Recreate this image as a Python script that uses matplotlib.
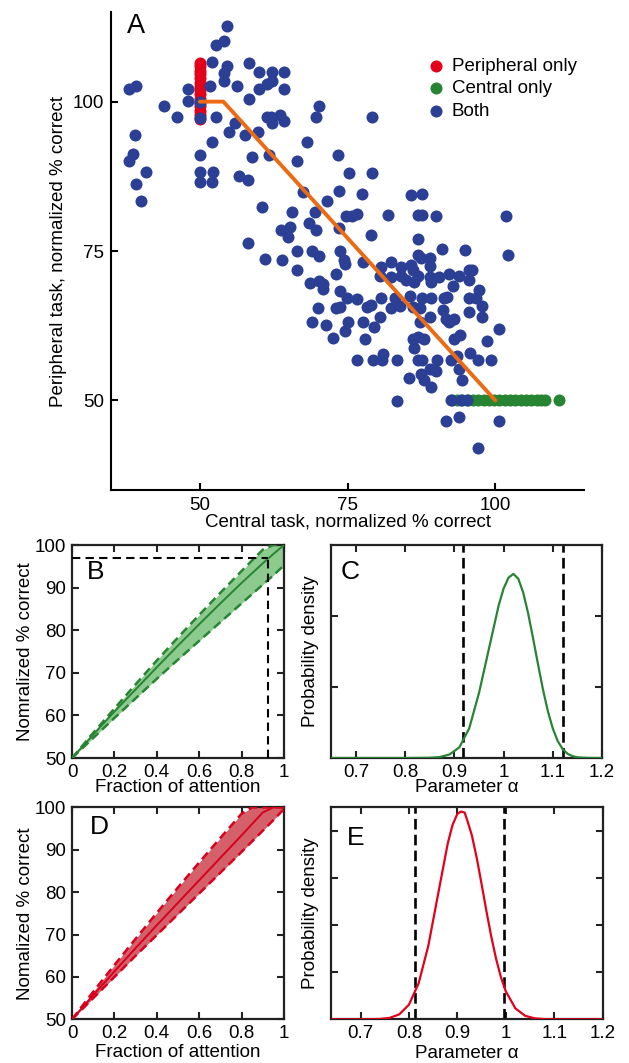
import matplotlib.pyplot as plt
import numpy as np

plt.rcParams['font.family'] = ['Liberation Sans', 'DejaVu Sans']

# ---- panel A: central vs peripheral task, normalized % correct ----
both_x = [54.7, 52.8, 54.1, 52.0, 58.4, 54.7, 54.1, 54.1, 60.1, 62.3,
          64.3, 62.3, 61.3, 60.1, 64.3, 51.7, 56.3, 38.0, 39.2, 48.1,
          48.1, 58.4, 43.9, 46.2, 52.8, 50.0, 50.0, 56.0, 61.3, 62.1,
          62.3, 63.5, 64.3, 70.2, 69.7, 54.9, 57.7, 59.8, 39.0, 52.0,
          68.2, 38.7, 38.0, 50.0, 58.9, 61.8, 73.4, 66.4, 40.9, 50.0,
          50.0, 52.3, 52.1, 56.6, 58.1, 39.2, 40.1, 75.3, 79.1, 79.1,
          67.5, 71.5, 73.6, 77.5, 85.8, 87.6, 60.5, 65.6, 69.5, 74.7,
          75.8, 76.6, 81.8, 86.9, 87.6, 89.9, 101.8, 68.5, 69.6, 73.6,
          63.8, 65.2, 64.9, 58.1, 79.0, 86.9, 90.9, 94.8, 102.2, 61.0,
          63.9, 66.5, 66.5, 69.0, 70.2, 73.8, 74.4, 74.6, 77.6, 73.0,
          68.6, 70.2, 70.9, 70.9, 73.7, 74.9, 76.6, 78.3, 70.0, 73.0,
          73.8, 69.0, 71.4, 75.1, 77.6, 74.6, 72.6, 77.9, 76.6, 80.7,
          82.4, 80.5, 82.4, 84.1, 85.8, 86.1, 84.1, 84.9, 86.3, 86.9,
          86.9, 87.5, 88.9, 88.9, 88.9, 89.1, 90.5, 92.2, 93.9, 95.6,
          96.1, 95.6, 92.9, 97.2, 96.7, 80.6, 83.0, 85.5, 87.6, 89.1,
          91.4, 91.9, 95.5, 78.9, 82.4, 83.9, 86.1, 87.2, 91.1, 95.6,
          97.7, 97.8, 88.9, 80.5, 87.2, 91.7, 93.0, 92.2, 100.6, 79.4,
          86.0, 86.9, 88.0, 86.3, 93.0, 94.1, 98.6, 79.3, 81.0, 80.8,
          83.4, 86.9, 87.6, 90.2, 92.5, 93.6, 95.7, 97.1, 99.2, 85.4,
          87.5, 88.0, 89.0, 90.0, 89.2, 93.9, 94.3, 83.4, 92.5, 94.2,
          95.2, 91.7, 93.9, 100.6, 97.0]
both_y = [112.6, 109.4, 110.1, 106.7, 106.4, 105.9, 104.8, 103.4, 104.9, 104.9,
          104.9, 103.4, 102.9, 102.1, 102.1, 102.6, 102.6, 102.1, 102.6, 102.1,
          100.1, 100.5, 99.3, 97.5, 97.5, 100.0, 97.2, 96.5, 97.5, 97.4,
          96.5, 97.8, 96.7, 99.3, 97.5, 95.0, 94.4, 95.0, 94.5, 93.3,
          93.3, 91.2, 90.1, 91.1, 90.7, 91.1, 91.1, 90.0, 88.2, 88.2,
          86.6, 88.2, 86.6, 87.6, 86.9, 86.2, 83.3, 88.0, 97.5, 88.0,
          84.8, 83.3, 85.0, 84.6, 84.4, 84.5, 82.3, 81.6, 81.6, 80.8,
          80.8, 81.2, 81.0, 81.0, 81.0, 80.8, 80.8, 79.7, 78.5, 78.8,
          78.5, 79.1, 77.4, 76.4, 77.6, 77.0, 75.4, 75.1, 74.4, 73.6,
          73.5, 75.0, 71.8, 75.0, 74.2, 75.0, 73.5, 72.9, 73.1, 71.1,
          69.7, 70.0, 69.5, 68.7, 68.3, 67.2, 67.0, 65.7, 65.4, 65.4,
          65.6, 63.1, 62.6, 63.1, 63.1, 61.6, 60.5, 60.2, 56.8, 72.4,
          73.1, 70.8, 70.6, 72.4, 72.7, 71.8, 70.8, 70.1, 69.8, 70.8,
          74.3, 73.9, 73.9, 72.5, 70.7, 69.9, 70.7, 71.1, 70.8, 71.8,
          71.8, 70.1, 69.2, 68.5, 67.2, 67.2, 67.2, 67.4, 67.2, 67.2,
          67.1, 67.3, 67.2, 65.9, 65.4, 65.8, 65.7, 65.4, 65.1, 64.8,
          65.8, 64.0, 64.0, 64.0, 63.1, 63.7, 63.7, 63.1, 61.9, 62.3,
          60.3, 60.6, 60.3, 58.7, 60.3, 60.9, 59.9, 56.8, 57.8, 56.7,
          56.8, 56.8, 56.8, 56.8, 56.7, 57.5, 57.9, 56.8, 56.8, 53.8,
          54.4, 53.4, 55.3, 54.9, 52.3, 55.3, 53.4, 49.9, 50.0, 50.0,
          50.0, 46.5, 47.3, 46.6, 42.1]
periph_only_y = [97.1, 97.8, 98.5, 99.2, 99.8, 100.5, 101.2, 101.9, 102.5,
                 103.2, 103.9, 104.6, 105.2, 105.9, 106.5]
central_only_x = [92.6, 93.5, 94.4, 95.3, 96.2, 97.1, 98.0, 98.9, 99.8, 100.7,
                  101.6, 102.5, 103.4, 104.3, 105.2, 106.1, 107.0, 107.8, 108.4,
                  110.8]
trade_x = [50, 54, 100]
trade_y = [100, 100, 50]

# ---- panels B / D: performance vs fraction of attention ----
frac = [0, 0.1, 0.2, 0.3, 0.4, 0.5, 0.6, 0.7, 0.8, 0.85, 0.9, 0.95, 1.0]
b_mid = [50, 55.5, 60.9, 66.1, 71.3, 76.4, 81.4, 86.3, 91.1, 93.4, 95.7, 97.9, 100]
b_up = [50, 55.9, 61.6, 67.3, 72.9, 78.3, 83.6, 88.8, 93.9, 96.4, 98.9, 100, 100]
b_lo = [50, 54.7, 59.4, 64.0, 68.6, 73.1, 77.5, 81.9, 86.3, 88.5, 90.7, 92.9, 95.2]
b_cross = (0.926, 96.9)

d_mid = [50, 55.7, 61.3, 66.8, 72.2, 77.5, 82.8, 88.1, 93.4, 96.1, 98.8, 100, 100]
d_up = [50, 56.5, 62.8, 69.0, 75.1, 81.1, 87.0, 92.8, 98.5, 100, 100, 100, 100]
d_lo = [50, 55.0, 60.0, 65.0, 69.9, 74.8, 79.7, 84.6, 89.5, 92.0, 94.5, 97.0, 99.6]

# ---- panels C / E: posterior of alpha ----
alpha_c = [0.65, 0.80, 0.85, 0.87, 0.89, 0.91, 0.93, 0.95, 0.97, 0.99, 1.00,
           1.01, 1.02, 1.03, 1.04, 1.05, 1.06, 1.07, 1.08, 1.09, 1.10, 1.11,
           1.12, 1.13, 1.14, 1.15, 1.17, 1.20]
dens_c = [0, 0, 0.01, 0.04, 0.15, 0.45, 1.25, 2.75, 4.6, 6.45, 7.16,
          7.62, 7.78, 7.57, 6.98, 6.10, 5.05, 3.96, 2.90, 1.98, 1.25, 0.72,
          0.38, 0.18, 0.08, 0.03, 0.005, 0]
ci_c = [0.918, 1.12]

alpha_e = [0.64, 0.70, 0.74, 0.76, 0.78, 0.80, 0.82, 0.84, 0.86, 0.88, 0.89,
           0.90, 0.907, 0.915, 0.92, 0.93, 0.94, 0.95, 0.96, 0.97, 0.98, 0.99,
           1.00, 1.02, 1.04, 1.06, 1.08, 1.10, 1.20]
dens_e = [0, 0, 0.014, 0.06, 0.21, 0.62, 1.53, 3.12, 5.29, 7.45, 8.25,
          8.72, 8.82, 8.78, 8.48, 7.81, 6.86, 5.75, 4.6, 3.52, 2.57, 1.79,
          1.19, 0.46, 0.15, 0.04, 0.01, 0, 0]
ci_e = [0.812, 0.996]

BLUE = '#2b3f95'
RED = '#e2001a'
GREEN = '#278433'
ORANGE = '#ec6a14'
FRAME = '#222222'
FS = 13.5

fig = plt.figure(figsize=(6.29, 10.63), dpi=100)

# ---------------- A ----------------
axA = fig.add_axes([0.1765, 0.539, 0.752, 0.4497])
hr = axA.scatter(np.full(len(periph_only_y), 50), periph_only_y, s=75, color=RED,
                 lw=0, zorder=2, label='Peripheral only')
hg = axA.scatter(central_only_x, np.full(len(central_only_x), 50), s=75, color=GREEN,
                 lw=0, zorder=2, label='Central only')
hb = axA.scatter(both_x, both_y, s=75, color=BLUE, lw=0, zorder=3, label='Both')
axA.plot(trade_x, trade_y, color=ORANGE, lw=2.8, zorder=4,
         solid_joinstyle='round', solid_capstyle='round')
axA.set_xlim(35, 115)
axA.set_ylim(35, 115)
axA.set_xticks([50, 75, 100])
axA.set_yticks([50, 75, 100])
axA.spines['top'].set_visible(False)
axA.spines['right'].set_visible(False)
for s in ['left', 'bottom']:
    axA.spines[s].set_linewidth(1.5)
axA.tick_params(direction='in', length=5, width=1.5, labelsize=FS, pad=5)
axA.set_xlabel('Central task, normalized % correct', fontsize=FS)
axA.set_ylabel('Peripheral task, normalized % correct', fontsize=FS)
axA.xaxis.set_label_coords(0.5, -0.05)
axA.yaxis.set_label_coords(-0.094, 0.5)
axA.text(0.033, 0.998, 'A', transform=axA.transAxes, fontsize=19.5, va='top', ha='left')
axA.legend(handles=[hr, hg, hb], loc='upper left', bbox_to_anchor=(0.667, 0.905),
           frameon=False, fontsize=FS, borderpad=0, borderaxespad=0,
           handlelength=1.0, handletextpad=0.35, labelspacing=0.29, scatterpoints=1)


def box_style(ax):
    for s in ax.spines.values():
        s.set_linewidth(1.6)
        s.set_color(FRAME)
    ax.tick_params(direction='in', length=5, width=1.5, top=True, right=True,
                   labelsize=FS, pad=4, color=FRAME)


def attention_panel(ax, mid, up, lo, line_col, fill_col, letter, ylab):
    ax.fill_between(frac, lo, up, color=fill_col, lw=0, zorder=1)
    ax.plot(frac, up, color=line_col, lw=1.8, ls=(0, (3.5, 2)), zorder=3)
    ax.plot(frac, lo, color=line_col, lw=1.8, ls=(0, (3.5, 2)), zorder=3)
    ax.plot(frac, mid, color=line_col, lw=1.4, zorder=3)
    ax.set_xlim(0, 1)
    ax.set_ylim(50, 100)
    ax.set_xticks([0, 0.2, 0.4, 0.6, 0.8, 1.0])
    ax.set_xticklabels(['0', '0.2', '0.4', '0.6', '0.8', '1'])
    ax.set_yticks([50, 60, 70, 80, 90, 100])
    box_style(ax)
    ax.set_xlabel('Fraction of attention', fontsize=FS)
    ax.set_ylabel(ylab, fontsize=FS)
    ax.yaxis.set_label_coords(-0.18, 0.5)
    ax.text(0.07, 0.93, letter, transform=ax.transAxes, fontsize=19, va='top', ha='left')


def alpha_panel(ax, a, d, ci, col, xlo, yticks, letter):
    ax.plot(a, d, color=col, lw=1.6, zorder=3)
    for c in ci:
        ax.axvline(c, color='black', lw=1.9, ls=(0, (4, 2)), zorder=2)
    ax.set_xlim(xlo, 1.2)
    ax.set_ylim(0, 9)
    ax.set_xticks([0.7, 0.8, 0.9, 1.0, 1.1, 1.2])
    ax.set_xticklabels(['0.7', '0.8', '0.9', '1', '1.1', '1.2'])
    ax.set_yticks(yticks)
    ax.set_yticklabels([])
    box_style(ax)
    ax.set_xlabel('Parameter α', fontsize=FS)
    ax.set_ylabel('Probability density', fontsize=FS)
    ax.yaxis.set_label_coords(-0.046, 0.5)
    ax.text(0.035, 0.93, letter, transform=ax.transAxes, fontsize=19, va='top', ha='left')


# ---------------- B ----------------
axB = fig.add_axes([0.1145, 0.2869, 0.337, 0.2004])
attention_panel(axB, b_mid, b_up, b_lo, GREEN, '#8dca8d', 'B', 'Nomralized % correct')
axB.plot([0, b_cross[0]], [b_cross[1], b_cross[1]], color='black', lw=1.5,
         ls=(0, (4, 2.5)), zorder=5)
axB.plot([b_cross[0], b_cross[0]], [50, b_cross[1]], color='black', lw=1.5,
         ls=(0, (4, 2.5)), zorder=5)
axB.xaxis.set_label_coords(0.5, -0.098)

# ---------------- C ----------------
axC = fig.add_axes([0.527, 0.2869, 0.430, 0.2004])
alpha_panel(axC, alpha_c, dens_c, ci_c, GREEN, 0.65, [3, 6], 'C')
axC.xaxis.set_label_coords(0.5, -0.1)

# ---------------- D ----------------
axD = fig.add_axes([0.1145, 0.0411, 0.337, 0.1994])
attention_panel(axD, d_mid, d_up, d_lo, '#d9001e', '#d4606a', 'D', 'Nomalized % correct')
axD.texts[0].set_position((0.086, 0.965))
axD.xaxis.set_label_coords(0.5, -0.117)

# ---------------- E ----------------
axE = fig.add_axes([0.527, 0.0411, 0.431, 0.1994])
alpha_panel(axE, alpha_e, dens_e, ci_e, RED, 0.64, [2, 4, 6, 8], 'E')
axE.texts[0].set_position((0.055, 0.91))
axE.xaxis.set_label_coords(0.5, -0.122)

fig.savefig('out.png', dpi=100)
